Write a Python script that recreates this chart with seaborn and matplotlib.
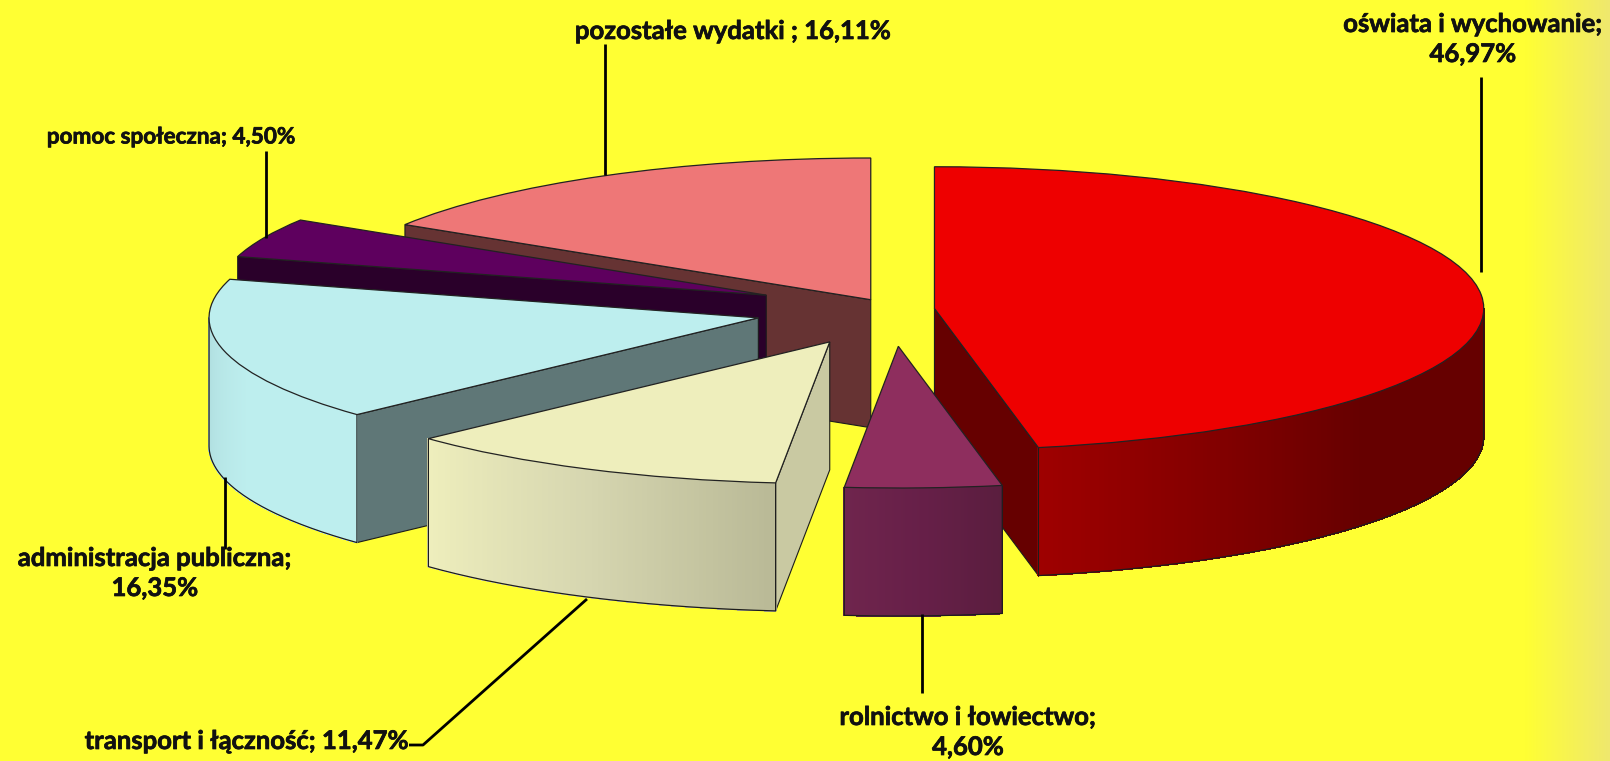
import numpy as np
import matplotlib
matplotlib.use("Agg")
import matplotlib.pyplot as plt
import matplotlib.patheffects as pe
import seaborn as sns

# ---- data ----
categories = ["oświata i wychowanie", "rolnictwo i łowiectwo", "transport i łączność",
              "administracja publiczna", "pomoc społeczna", "pozostałe wydatki"]
shares = [46.97, 4.60, 11.47, 16.35, 4.50, 16.11]
share_labels = ["46,97%", "4,60%", "11,47%", "16,35%", "4,50%", "16,11%"]

# ---- styles ----
explode = [0.078, 0.26, 0.255, 0.25, 0.25, 0.079]
top_colors = ["#EE0000", "#8E2E5E", "#EEEEBC", "#BDEEEE", "#5E005E", "#EE7777"]
cut_colors = ["#660000", "#5C1F40", "#C9C9A2", "#5F7777", "#2A002A", "#663333"]
side_from = ["#9E0000", "#6F254D", "#EEEEBC", "#B0DEDF", "#2A002A", "#663333"]
side_mid = ["#660000", "#661F48", "#D6D6B0", "#BDEEEE", "#2A002A", "#663333"]
side_to = ["#660000", "#5A1E3E", "#B9B996", "#BDEEEE", "#2A002A", "#663333"]
draw_order = [5, 4, 3, 2, 0, 1]
YELLOW = "#FFFF33"

W, H = 1610, 761
CX, CY = 891.8, 309.5     # pie centre, px
RX, RY = 549.3, 141.7     # ellipse radii, px
DEPTH = 128.0 / RY        # depth in y data units

sns.set_theme(style="white")
plt.rcParams["font.family"] = ["Lato", "DejaVu Sans"]
fig = plt.figure(figsize=(W / 100, H / 100), dpi=100, facecolor=YELLOW)
ax = fig.add_axes([0, 0, 1, 1])

wedges, _ = ax.pie(shares, explode=explode, startangle=90, counterclock=False,
                   colors=top_colors, radius=1.0,
                   wedgeprops=dict(edgecolor="#222222", linewidth=0.9))
ax.set_aspect("auto")
ax.set_axis_off()


def fx(px):
    return (px - CX) / RX


def fy(py):
    return (CY - py) / RY


# page shading at the right edge
band = np.linspace(0, 1, 128)[None, :, None]
c0 = np.array(matplotlib.colors.to_rgb(YELLOW))
c1 = np.array(matplotlib.colors.to_rgb("#EFE86E"))
ax.imshow(c0 + band * (c1 - c0), extent=(fx(1525), fx(W), fy(H), fy(0)),
          aspect="auto", zorder=0, interpolation="bilinear")
ax.set_xlim((0 - CX) / RX, (W - CX) / RX)
ax.set_ylim((CY - H) / RY, CY / RY)

ends = np.cumsum(shares) / np.sum(shares) * 360.0
starts = ends - np.array(shares) / np.sum(shares) * 360.0

for z, i in enumerate(draw_order):
    base = 10 + z * 10
    a0, a1 = np.radians(starts[i]), np.radians(ends[i])
    mid = (a0 + a1) / 2
    ox, oy = explode[i] * np.sin(mid), explode[i] * np.cos(mid)
    # flat cut faces that look towards the viewer
    visible = []
    if np.pi <= a0 < 2 * np.pi:
        visible.append(a0)
    if 0 < a1 <= np.pi:
        visible.append(a1)
    for a in visible:
        rx, ry = ox + np.sin(a), oy + np.cos(a)
        ax.fill([ox, rx, rx, ox], [oy, ry, ry - DEPTH, oy - DEPTH],
                facecolor=cut_colors[i], edgecolor="#1c1c1c", linewidth=0.8, zorder=base)
    # outer wall, only its front-facing part
    lo, hi = max(a0, np.pi / 2), min(a1, 3 * np.pi / 2)
    if hi > lo:
        n = 160
        edges = np.linspace(lo, hi, n + 1)
        xs = ox + np.sin(edges)
        ys = oy + np.cos(edges)
        half = n // 2
        ramp = (list(sns.blend_palette([side_from[i], side_mid[i]], half + 1))[:-1]
                + list(sns.blend_palette([side_mid[i], side_to[i]], n - half)))
        if xs[0] > xs[-1]:
            ramp = ramp[::-1]
        for k in range(n):
            ax.fill([xs[k], xs[k + 1], xs[k + 1], xs[k]],
                    [ys[k], ys[k + 1], ys[k + 1] - DEPTH, ys[k] - DEPTH],
                    facecolor=ramp[k], edgecolor=ramp[k], linewidth=0.6,
                    antialiased=False, zorder=base + 1)
        ax.plot(np.r_[xs[0], xs[0], xs, xs[-1]],
                np.r_[ys[0], ys[0] - DEPTH, ys - DEPTH, ys[-1]],
                color="#1c1c1c", lw=0.9, zorder=base + 2)
    wedges[i].set_zorder(base + 3)

# ---- leader lines (px) ----
leaders = [
    ([1481, 1481], [77, 272]),
    ([605, 605], [44, 175]),
    ([266, 266], [151, 238]),
    ([225, 225], [477, 549]),
    ([587, 423, 409], [599, 745, 745]),
    ([922, 922], [614, 693]),
]
for lx, ly in leaders:
    ax.plot(fx(np.array(lx)), fy(np.array(ly)), color="black", lw=2.0, zorder=100,
            solid_capstyle="butt")

# ---- labels ----
labels = [
    (f"{categories[0]};\n{share_labels[0]}", 1473, 39, 18.5),
    (f"{categories[5]} ; {share_labels[5]}", 733, 31, 18.5),
    (f"{categories[4]}; {share_labels[4]}", 171, 137, 16.2),
    (f"{categories[3]};\n{share_labels[3]}", 155, 573, 18.5),
    (f"{categories[2]}; {share_labels[2]}", 247, 741, 18.5),
    (f"{categories[1]};\n{share_labels[1]}", 968, 732, 18.5),
]
for txt, px, py, fs in labels:
    ax.text(fx(px), fy(py), txt, ha="center", va="center", fontsize=fs, fontweight="bold",
            color="#111111", linespacing=1.3, zorder=110,
            path_effects=[pe.withStroke(linewidth=0.5, foreground="#111111")])

fig.savefig("out.png", dpi=100, facecolor=YELLOW)
